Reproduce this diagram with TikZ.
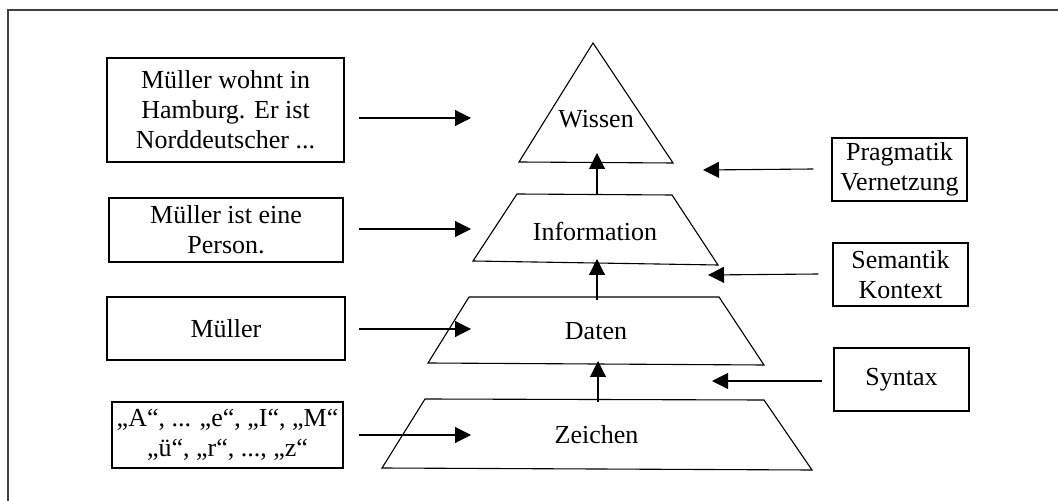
\documentclass[tikz,border=0pt]{standalone}
\usepackage{fontspec}
\setmainfont{Liberation Serif}
\usetikzlibrary{
  arrows.meta,
  positioning,
  calc
}
\definecolor{frameGray}{rgb}{0.25,0.25,0.25}
\tikzset{
  textbox/.style={
    draw,
    line width=0.6pt,
    align=center,
    inner sep=0pt,
    minimum height=31.5pt
  },
  layer/.style={
    draw,
    line width=0.55pt
  }
}

\begin{document}
\begin{tikzpicture}[
      x=0.5pt, y=-0.5pt,
      >={Triangle[length=8pt,width=8pt]},
      every node/.style={font=\fontsize{13}{15}\selectfont},
      line width=0.55pt
      ]
      \useasboundingbox (0,0) rectangle (1058,501);
      \begin{scope}
        \clip (0,0) rectangle (1058,501);
        \draw[frameGray, line width=1pt] (8,10) rectangle (1080,530);
      \end{scope}

      % examples on the left
      \node[textbox, minimum width=118.5pt, minimum height=52pt] (wohnt) at (225.5,110)
        {Müller wohnt in\\Hamburg. Er ist\\Norddeutscher ...};
      \node[textbox, minimum width=117pt, minimum height=32pt] (person) at (226,230)
        {Müller ist eine\\Person.};
      \node[textbox, minimum width=119pt] (mueller) at (226,328.5) {Müller};
      \node[textbox, minimum width=115.5pt, minimum height=33pt] (zeichenbsp) at (227.5,435)
        {„A“, ... „e“, „I“, „M“\\„ü“, „r“, ..., „z“};

      % levels on the right
      \node[textbox, minimum width=67.5pt] (pragmatik) at (899.5,169.5) {Pragmatik\\Vernetzung};
      \node[textbox, minimum width=67.5pt] (semantik) at (900.5,274.5) {Semantik\\Kontext};
      \node[textbox, minimum width=67.5pt] (syntax) at (901.5,379.5) {Syntax};

      % pyramid
      \draw[layer] (593,43) -- (673,163) -- (519,162) -- cycle;
      \draw[layer] (517,194) -- (672,195) -- (718,265) -- (473,261) -- cycle;
      \draw[layer] (469,297) -- (719,297) -- (764,365) -- (428,363) -- cycle;
      \draw[layer] (425,399) -- (764,400) -- (812,470) -- (382,468) -- cycle;

      \node (wissen) at (596,119) {Wissen};
      \node (information) at (595,231) {Information};
      \node (daten) at (596,331) {Daten};
      \node (zeichen) at (596.5,435) {Zeichen};

      \coordinate (infoTop) at (597,195);
      \coordinate (wissenIn) at (597,153);
      \coordinate (datenTop) at (597,300);
      \coordinate (infoIn) at (597,259);
      \coordinate (zeichenTop) at (598,402);
      \coordinate (datenIn) at (598,361);

      \draw[->] (infoTop) -- (wissenIn);
      \draw[->] (datenTop) -- (infoIn);
      \draw[->] (zeichenTop) -- (datenIn);

      % arrows from the examples
      \foreach \b/\y in {wohnt/118, person/229, mueller/329, zeichenbsp/435}{
        \draw[->] (359,\y) coordinate (\b-out) -- (471,\y) coordinate (\b-in);
      }

      % arrows from the levels
      \draw[->] ($(pragmatik.west)+(-18,-0.5)$) -- (703,170);
      \draw[->] ($(semantik.west)+(-14,-0.5)$) -- (708,275);
      \draw[->] ($(syntax.west)+(-11,1.5)$) -- (712,381);
    \end{tikzpicture}
\end{document}
